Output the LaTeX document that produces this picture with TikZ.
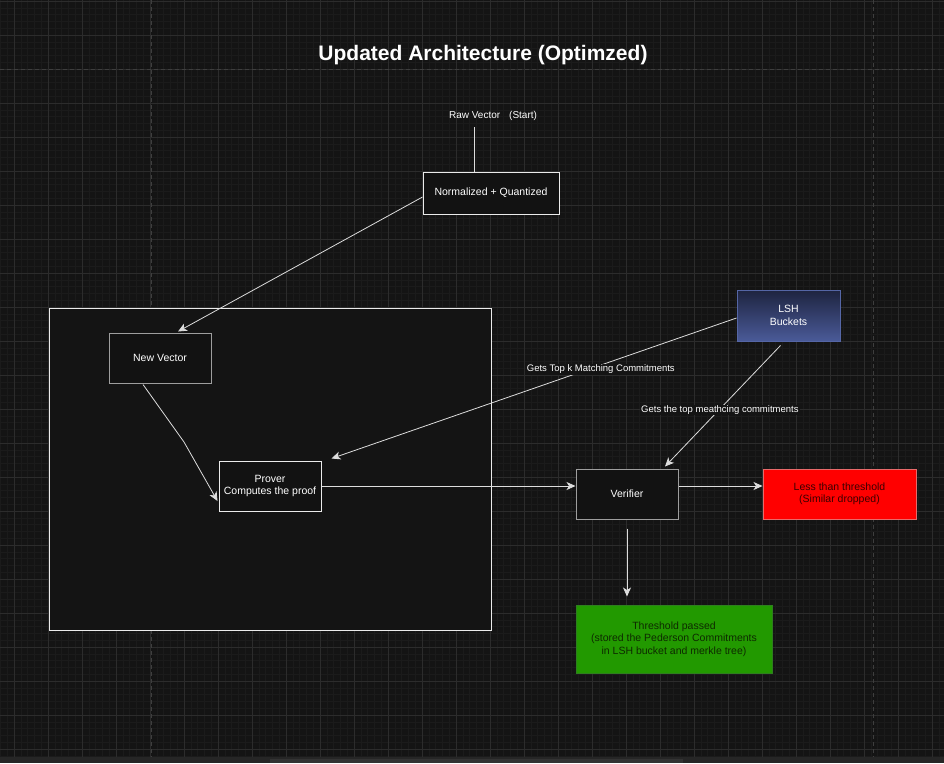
\documentclass[tikz,border=0pt]{standalone}
\usepackage{fontspec}
\setmainfont{Liberation Sans}
\usetikzlibrary{arrows.meta,calc}
\definecolor{bgc}{HTML}{141414}
\definecolor{minorc}{HTML}{1B1B1B}
\definecolor{majorc}{HTML}{2C2C2C}
\definecolor{dashc}{HTML}{3E3E3E}
\definecolor{boxfill}{HTML}{121212}
\definecolor{linec}{HTML}{DDDDDD}
\definecolor{lshtop}{HTML}{1E2440}
\definecolor{lshbot}{HTML}{4A5A98}
\definecolor{lshborder}{HTML}{5566A6}
\definecolor{redfill}{HTML}{FF0000}
\definecolor{redborder}{HTML}{E86A6A}
\definecolor{redtext}{HTML}{3A0000}
\definecolor{greenfill}{HTML}{229900}
\definecolor{greenborder}{HTML}{2E7F1E}
\definecolor{greentext}{HTML}{0E2A00}
\tikzset{
  minorgrid/.style={draw=minorc,line width=0.6pt},
  majorgrid/.style={draw=majorc,line width=0.9pt},
  dashgrid/.style={draw=dashc,line width=1pt,dash pattern=on 4pt off 3pt},
  basebox/.style={rectangle,fill=boxfill,line width=1pt,inner sep=0pt,align=center,
    text=white,font=\fontsize{10.5}{12.5}\selectfont},
  whitebox/.style={basebox,draw=white!92!black},
  graybox/.style={basebox,draw=white!62!black},
  conn/.style={draw=linec,line width=0.8pt,-{Stealth[length=9pt,width=8pt,inset=2.5pt]}},
  plain/.style={draw=linec,line width=0.8pt},
  edgelabel/.style={fill=bgc,inner sep=1pt,text=white,font=\fontsize{9.5}{11}\selectfont},
}
\begin{document}
\begin{tikzpicture}[x=1pt,y=-1pt]
\useasboundingbox (0,0) rectangle (944,763);
\fill[bgc] (0,0) rectangle (944,763);
% grid
\begin{scope}
\clip (0,0) rectangle (944,757);
\foreach \k in {-2,...,137} { \draw[minorgrid] ({14+6.8*\k},0) -- ({14+6.8*\k},757); }
\foreach \k in {0,...,112} { \draw[minorgrid] (0,{1+6.8*\k}) -- (944,{1+6.8*\k}); }
\foreach \k in {0,...,27} { \draw[majorgrid] ({14+34*\k},0) -- ({14+34*\k},757); }
\foreach \k in {0,...,22} { \draw[majorgrid] (0,{1+34*\k}) -- (944,{1+34*\k}); }
\draw[dashgrid] (151,0) -- (151,757);
\draw[dashgrid] (873,0) -- (873,757);
\draw[dashgrid] (0,69) -- (944,69);
\end{scope}
\fill[black!85!white] (0,757) rectangle (944,763);
\fill[black!80!white] (270,758.5) rectangle (683,763);

% title
\node[text=white,font=\bfseries\fontsize{21}{24}\selectfont] (title) at (483,55) {Updated Architecture (Optimzed)};

% big container
\node[whitebox,minimum width=442pt,minimum height=322pt,fill=black!92!white] (big) at (270,469) {};

% nodes
\node[text=white,font=\fontsize{10}{12}\selectfont] (raw) at (493,115.5) {Raw Vector\hspace{9pt}(Start)};
\coordinate (rawend) at (474,127);
\node[whitebox,minimum width=136pt,minimum height=42pt] (norm) at (491,193) {Normalized + Quantized};
\node[graybox,minimum width=102pt,minimum height=50pt] (nv) at (160,358) {New Vector};
\node[whitebox,minimum width=102pt,minimum height=50pt] (prover) at (270,486) {Prover\\Computes the proof};
\node[graybox,minimum width=102pt,minimum height=50pt] (verifier) at (627,494) {Verifier};
\node[basebox,draw=redborder,fill=redfill,text=redtext,minimum width=153pt,minimum height=50pt] (less) at (839.5,494) {Less than threshold\\(Similar dropped)};
\node[basebox,draw=greenborder,fill=greenfill,text=greentext,minimum width=196pt,minimum height=68pt] (thr) at (674,639) {Threshold passed\\(stored the Pederson Commitments\\in LSH bucket and merkle tree)};
\node[basebox,draw=lshborder,top color=lshtop,bottom color=lshbot,minimum width=103pt,minimum height=51pt] (lsh) at (788.5,315.5) {LSH\\Buckets};

% connectors
\draw[plain] (rawend) -- (rawend |- norm.north);
\draw[conn] ($(norm.west)+(0,4)$) -- ($(nv.north)+(18,-1)$);
\draw[conn] ($(nv.south)+(-17,1)$) -- (184,442) -- ($(prover.west)+(-1,15)$);
\draw[conn] (prover.east) -- (prover.east -| verifier.west);
\draw[conn] ($(verifier.east)+(0,-8)$) -- ($(verifier.east)+(84,-8)$);
\draw[conn] ($(verifier.south)+(0,9)$) -- ($(verifier.south |- thr.north)+(0,-8)$);
\draw[conn] ($(lsh.west)+(0,2.5)$) -- node[edgelabel,pos=0.335,yshift=-4pt] (lab1) {Gets Top k Matching Commitments} ($(prover.north east)+(10,-2)$);
\draw[conn] ($(lsh.south)+(-8,4)$) -- node[edgelabel,pos=0.525,yshift=-1pt] (lab2) {Gets the top meathcing commitments} ($(verifier.north)+(38,-2)$);
\end{tikzpicture}
\end{document}
